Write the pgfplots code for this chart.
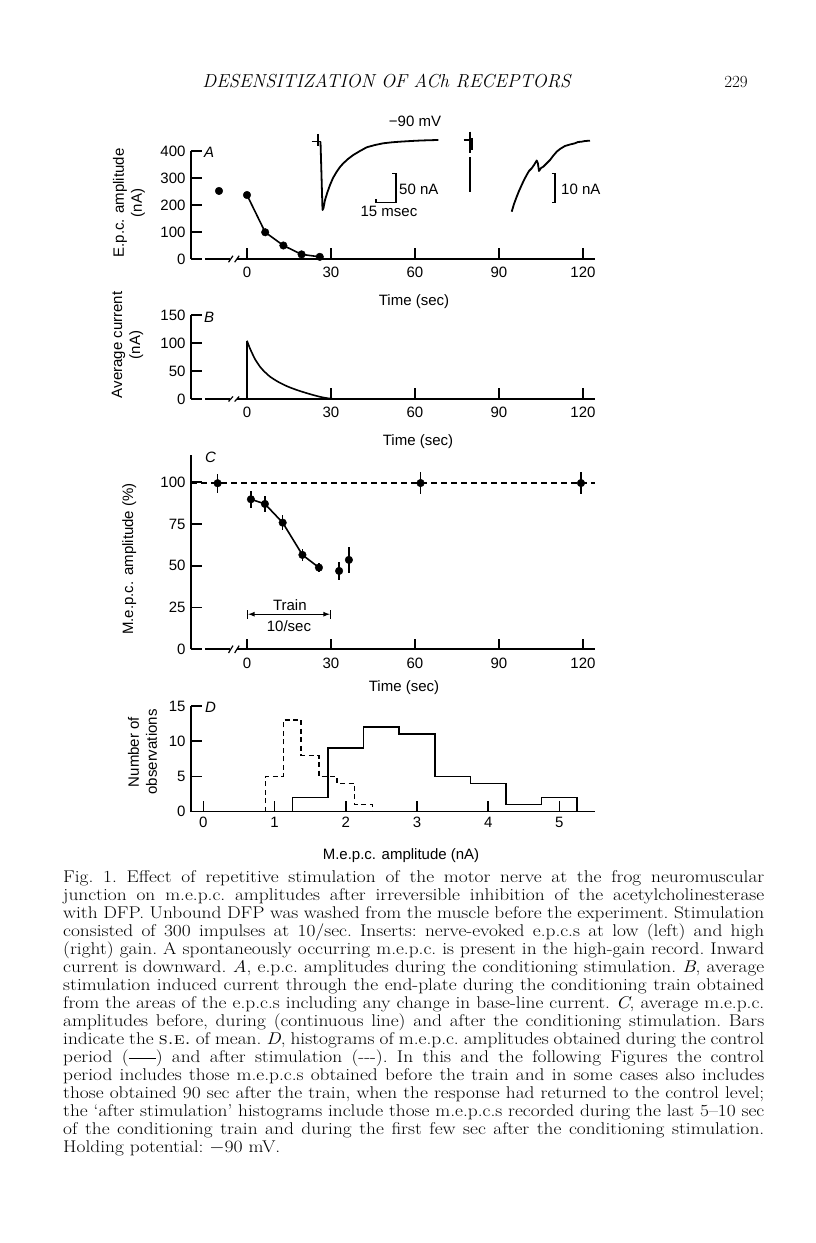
\documentclass[border=0pt]{standalone}
\usepackage{fontspec}
\usepackage{graphicx}
\usepackage{pgfplots}
\pgfplotsset{compat=1.18}
\newfontfamily\figfont{Liberation Sans}
\newcommand{\ff}{\figfont\fontsize{15}{18}\selectfont}
\newcommand{\cl}[1]{\scalebox{1.14}[1]{\makebox[615pt][s]{#1}}\par}
\pgfplotsset{panel/.style={
  scale only axis, anchor=south west, clip=false,
  axis y line=left, axis x line=bottom,
  x axis line style={draw=none}, y axis line style={-, line width=1.6pt, black},
  xtick align=inside, ytick align=inside,
  major tick length=10.5pt,
  tick style={line width=1.6pt, black},
  tick label style={font=\ff},
  /pgf/number format/assume math mode=true,
  xticklabel style={yshift=-5pt},
  yticklabel style={xshift=-2pt},
  cycle list={{black, no markers, line width=1.6pt}},
  every axis plot/.append style={line width=1.6pt, black},
}}
\begin{document}
\begin{tikzpicture}
\path[use as bounding box] (0pt,0pt) rectangle (816pt,1243pt);
% ---------------- header
\node[anchor=base, inner sep=0pt] at (386.5pt,1155.5pt) {\fontsize{18.8}{22}\selectfont\itshape DESENSITIZATION OF ACh RECEPTORS};
\node[anchor=base, inner sep=0pt] at (736pt,1155.5pt) {\fontsize{17}{20}\selectfont 229};

% ---------------- Panel A
\begin{axis}[panel, at={(191pt,984pt)}, width=404pt, height=108pt,
  xmin=-20, xmax=124.3, ymin=0, ymax=400,
  xtick={0,30,60,90,120}, ytick={0,100,200,300,400}]
\draw[line width=1.6pt] (axis cs:-15,0) -- (axis cs:-5.9,0);
\draw[line width=1.6pt] (axis cs:-3.6,0) -- (axis cs:124.3,0);
\draw[line width=1.2pt] (axis cs:-6.6,-12) -- (axis cs:-5.0,12);
\draw[line width=1.2pt] (axis cs:-4.4,-12) -- (axis cs:-2.8,12);
\addplot[black, only marks, mark=*, mark size=3.8pt, mark options={line width=0.4pt}] coordinates {(-10,252)};
\addplot[black, mark=*, mark size=3.8pt, mark options={line width=0.4pt}] coordinates {(0,237)(6.5,99)(13,50)(19.5,17)(26,8)};
\end{axis}

% ---------------- Panel B
\begin{axis}[panel, at={(191pt,844pt)}, width=404pt, height=84pt,
  xmin=-20, xmax=124.3, ymin=0, ymax=150,
  xtick={0,30,60,90,120}, ytick={0,50,100,150}]
\draw[line width=1.6pt] (axis cs:-15,0) -- (axis cs:-5.9,0);
\draw[line width=1.6pt] (axis cs:-3.6,0) -- (axis cs:124.3,0);
\draw[line width=1.2pt] (axis cs:-6.6,-4.5) -- (axis cs:-5.0,4.5);
\draw[line width=1.2pt] (axis cs:-4.4,-4.5) -- (axis cs:-2.8,4.5);
\addplot[black, no markers] coordinates {(0,0)(0,104)};
\addplot[black, no markers, smooth, tension=0.4] coordinates {(0,104)(1,91)(2,80)(3,70)(4.6,58)(6,50)(8.2,40)(11,31)(14.2,23)(17,17.5)(20,12.5)(23,8)(26,4)(28,2)(30,0.5)(32,0)};
\end{axis}

% ---------------- Panel C
\begin{axis}[panel, at={(191pt,593.7pt)}, width=404pt, height=194.3pt,
  xmin=-20, xmax=124.3, ymin=0, ymax=116.3,
  xtick={0,30,60,90,120}, ytick={0,25,50,75,100}]
\draw[line width=1.6pt] (axis cs:-15,0) -- (axis cs:-5.9,0);
\draw[line width=1.6pt] (axis cs:-3.6,0) -- (axis cs:124.3,0);
\draw[line width=1.2pt] (axis cs:-6.6,-2.2) -- (axis cs:-5.0,2.2);
\draw[line width=1.2pt] (axis cs:-4.4,-2.2) -- (axis cs:-2.8,2.2);
\addplot[black, no markers, line width=1.4pt, dash pattern=on 6pt off 4pt] coordinates {(-20,99.5)(124.3,99.5)};
\addplot[black, no markers] coordinates {(1.4,89.8)(6.4,87)(12.75,75.8)(19.8,56.5)(25.7,48.9)};
\addplot[black, only marks, mark=*, mark size=3.8pt, mark options={line width=0.4pt},
  error bars/.cd, y dir=both, y explicit, error mark=none, error bar style={line width=1.6pt, black}]
  coordinates {
  (-10.5,99.4) +- (0,5.7)
  (1.4,89.8) +- (0,5)
  (6.4,87) +- (0,5)
  (12.75,75.8) +- (0,4.5)
  (19.8,56.5) +- (0,3.5)
  (25.7,48.9) +- (0,2.5)
  (32.9,46.9) +- (0,5.2)
  (36.4,53.5) +- (0,7.8)
  (62,99.5) +- (0,6.7)
  (119.3,99.5) +- (0,6.5)
  };
\draw[|<->|, >=latex, line width=1.2pt] (axis cs:0,21) -- (axis cs:30,21);
\node[font=\ff] at (axis cs:15.3,26.5) {Train};
\node[font=\ff] at (axis cs:15,14) {10/sec};
\end{axis}

% ---------------- Panel D
\begin{axis}[panel, at={(191pt,431.3pt)}, width=404pt, height=105.7pt,
  xmin=-0.173, xmax=5.5, ymin=0, ymax=15,
  xtick={0,1,2,3,4,5}, xticklabels={0,1,2,3,4,\raisebox{-8pt}{5}},
  ytick={0,5,10,15}, xticklabel style={yshift=3pt}]
\draw[line width=1.6pt] (axis cs:-0.173,0) -- (axis cs:5.5,0);
\addplot[black, no markers, const plot] coordinates {(1.25,0)(1.25,2)(1.75,9)(2.25,12)(2.75,11)(3.25,5)(3.75,4)(4.25,1)(4.75,2)(5.25,0)};
\addplot[black, no markers, const plot, line width=1.5pt, dash pattern=on 5pt off 3.5pt] coordinates {(0.875,0)(0.875,5)(1.125,13)(1.375,8)(1.625,5)(1.875,4)(2.125,1)(2.375,0)};
\end{axis}

% ---------------- overlay (pixel coordinates) with the inserts
\begin{axis}[at={(0pt,0pt)}, anchor=south west, scale only axis, width=816pt, height=1243pt,
  xmin=0, xmax=816, ymin=0, ymax=1243, y dir=reverse, hide axis, clip=false]
% low gain trace
\addplot[line width=1.6pt, black, no markers] coordinates {(311.7,141.7)(320.5,141.7)};
\addplot[line width=1.8pt, black, no markers] coordinates {(318.3,134)(318.3,146)};
\addplot[line width=1.8pt, black, no markers, line join=round] coordinates {
(320.5,141.7)(322.5,210)(323.5,208)(325,200)(327.5,192)(330,185)(333,178)(336.7,171.7)(340,167)
(343.3,163.3)(348,159)(353.3,155)(360,151)(366.7,147.3)(375,145)(383.3,143.3)(392,142.3)
(400,141.7)(408,141.2)(416.7,140.7)(427,140.3)(438.3,140)};
% high gain trace
\addplot[line width=1.6pt, black, no markers] coordinates {(463.5,140)(470,140)};
\addplot[line width=1.6pt, black, no markers] coordinates {(470,131.7)(470,153)};
\addplot[line width=1.6pt, black, no markers] coordinates {(470,157)(470,191.7)};
\addplot[line width=1.2pt, black, no markers] coordinates {(472,138)(472,150)};
\addplot[line width=1.8pt, black, no markers, line join=round] coordinates {
(511.7,211.7)(514,204)(516.7,196.7)(519,191)(521.7,185)(524,180)(526.7,175)(529,171)(531.7,168.3)
(534,165)(536.7,160.5)(537.8,163)(539,171)(541,168)(543.3,166.7)(546,164)(550,160)(553,156)
(556.7,151.7)(560,149)(565,146)(570,144.5)(575,143.3)(578,142)(581.7,141.7)(585,141)(590,140.7)};
% scale bars
\addplot[line width=1.5pt, black, no markers] coordinates {(392,173.3)(396,173.3)(396,202.7)(376,202.7)(376,199)};
\addplot[line width=1.5pt, black, no markers] coordinates {(551.7,173.3)(555,173.3)(555,202.7)(551.7,202.7)};
\end{axis}

% ---------------- insert labels
\node[font=\ff] at (415pt,1122pt) {\char"2212 90 mV};
\node[font=\ff, anchor=west, inner sep=0pt] at (399pt,1054pt) {50 nA};
\node[font=\ff] at (389pt,1032pt) {15 msec};
\node[font=\ff, anchor=west, inner sep=0pt] at (561pt,1054pt) {10 nA};

% ---------------- panel letters
\node[font=\ff\itshape, anchor=west, inner sep=0pt] at (204pt,1091pt) {A};
\node[font=\ff\itshape, anchor=west, inner sep=0pt] at (204pt,926pt) {B};
\node[font=\ff\itshape, anchor=west, inner sep=0pt] at (205pt,786pt) {C};
\node[font=\ff\itshape, anchor=west, inner sep=0pt] at (205pt,536pt) {D};

% ---------------- axis labels
\node[font=\ff] at (414pt,941pt) {Time (sec)};
\node[font=\ff] at (418pt,801pt) {Time (sec)};
\node[font=\ff] at (404pt,555pt) {Time (sec)};
\node[font=\ff] at (401pt,387pt) {M.e.p.c. amplitude (nA)};
\node[font=\ff, rotate=90, align=center] at (129pt,1040pt) {E.p.c. amplitude\\(nA)};
\node[font=\ff, rotate=90, align=center] at (127.5pt,898pt) {Average current\\(nA)};
\node[font=\ff, rotate=90] at (129.3pt,684pt) {M.e.p.c. amplitude (\%)};
\node[font=\ff, rotate=90, align=center] at (142.5pt,491pt) {Number of\\observations};

% ---------------- caption
\node[anchor=base west, inner sep=0pt] at (63pt,360pt) {\begin{minipage}[t]{701pt}
\fontsize{17}{18}\selectfont\frenchspacing\parindent=0pt\parskip=0pt\lineskiplimit=-100pt
\cl{Fig. 1. Effect of repetitive stimulation of the motor nerve at the frog neuromuscular}
\cl{junction on m.e.p.c. amplitudes after irreversible inhibition of the acetylcholinesterase}
\cl{with DFP. Unbound DFP was washed from the muscle before the experiment. Stimulation}
\cl{consisted of 300 impulses at 10/sec. Inserts: nerve-evoked e.p.c.s at low (left) and high}
\cl{(right) gain. A spontaneously occurring m.e.p.c. is present in the high-gain record. Inward}
\cl{current is downward. \textit{A}, e.p.c. amplitudes during the conditioning stimulation. \textit{B}, average}
\cl{stimulation induced current through the end-plate during the conditioning train obtained}
\cl{from the areas of the e.p.c.s including any change in base-line current. \textit{C}, average m.e.p.c.}
\cl{amplitudes before, during (continuous line) and after the conditioning stimulation. Bars}
\cl{indicate the \textsc{s.e.} of mean. \textit{D}, histograms of m.e.p.c. amplitudes obtained during the control}
\cl{period (\rule[0.25em]{1.4em}{0.07em}) and after stimulation (-{}-{}-). In this and the following Figures the control}
\cl{period includes those m.e.p.c.s obtained before the train and in some cases also includes}
\cl{those obtained 90 sec after the train, when the response had returned to the control level;}
\cl{the `after stimulation' histograms include those m.e.p.c.s recorded during the last 5--10 sec}
\cl{of the conditioning train and during the first few sec after the conditioning stimulation.}
\scalebox{1.14}[1]{Holding potential: $-90$ mV.}\par
\end{minipage}};
\end{tikzpicture}
\end{document}
